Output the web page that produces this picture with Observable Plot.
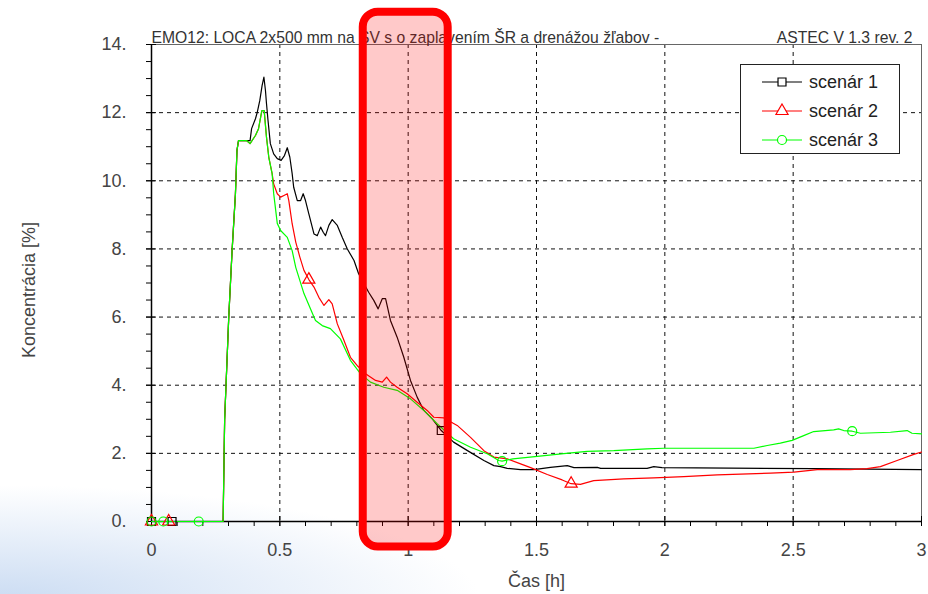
<!DOCTYPE html>
<html><head><meta charset="utf-8">
<script src="https://cdn.jsdelivr.net/npm/d3@7"></script>
<script src="https://cdn.jsdelivr.net/npm/@observablehq/plot@0.6"></script>
<style>
html,body{margin:0;padding:0;background:#fff;}
#wrap{position:relative;width:928px;height:594px;overflow:hidden;
  background: radial-gradient(ellipse 480px 115px at 0px 600px, rgba(200,218,242,0.95), rgba(255,255,255,0));}
#legend{position:absolute;left:740px;top:64px;width:158px;height:88px;border:1px solid #222;background:#fff;
  font-family:"Liberation Sans",Arial,sans-serif;font-size:18px;color:#222;box-sizing:content-box;}
#legend .row{position:absolute;left:20px;height:28px;display:flex;align-items:center;}
#legend .row span{margin-left:6px;}
</style></head>
<body><div id="wrap"></div>
<script>
const titleLeft = "EMO12: LOCA 2x500 mm na SV s o zaplavením ŠR a drenážou žľabov -";
const titleRight = "ASTEC V 1.3 rev. 2";
const xLabel = "Čas [h]";
const yLabel = "Koncentrácia [%]";
const seriesNames = ["scenár 1", "scenár 2", "scenár 3"];
const seriesColors = ["#000000", "#ff0000", "#00ff00"];
const seriesSymbols = ["square", "triangle", "circle"];
const xMajor = [0, 0.5, 1, 1.5, 2, 2.5, 3];
const xMinor = d3.range(0, 31).map(i => i / 10);
const yMajor = [0, 2, 4, 6, 8, 10, 12, 14];
const yMinor = d3.range(0, 29).map(i => i / 2);

// [time h, concentration %]
const scen1 = [[0,0],[0.279,0],[0.285,3.0],[0.301,6.0],[0.314,7.95],[0.327,9.61],[0.333,10.89],[0.339,11.18],[0.370,11.18],[0.384,11.18],[0.390,11.53],[0.405,11.82],[0.412,12.01],[0.422,12.36],[0.431,12.80],[0.438,13.04],[0.444,12.65],[0.448,12.27],[0.454,11.77],[0.463,11.09],[0.476,10.79],[0.490,10.65],[0.505,10.60],[0.518,10.74],[0.529,10.97],[0.539,10.69],[0.548,10.21],[0.554,9.81],[0.568,9.42],[0.581,9.42],[0.591,9.62],[0.600,9.42],[0.613,9.03],[0.633,8.44],[0.646,8.39],[0.659,8.64],[0.669,8.49],[0.678,8.39],[0.691,8.69],[0.704,8.86],[0.724,8.69],[0.743,8.34],[0.763,8.00],[0.789,7.66],[0.807,7.27],[0.846,6.73],[0.866,6.49],[0.883,6.24],[0.899,6.54],[0.912,6.54],[0.931,5.90],[0.957,5.41],[0.983,4.82],[1.009,4.14],[1.035,3.65],[1.061,3.26],[1.094,3.01],[1.129,2.67],[1.177,2.33],[1.231,2.08],[1.295,1.79],[1.334,1.64],[1.360,1.61],[1.386,1.56],[1.438,1.52],[1.490,1.52],[1.554,1.59],[1.620,1.64],[1.646,1.58],[1.737,1.59],[1.750,1.56],[1.931,1.56],[1.957,1.61],[1.989,1.58],[2.580,1.55],[3.000,1.52]];
const scen2 = [[0,0],[0.279,0],[0.285,3.0],[0.301,6.0],[0.314,7.95],[0.327,9.61],[0.333,10.89],[0.339,11.18],[0.370,11.18],[0.384,11.09],[0.405,11.33],[0.417,11.53],[0.430,12.06],[0.439,12.06],[0.448,11.28],[0.457,10.69],[0.470,10.21],[0.476,9.91],[0.490,9.62],[0.503,9.52],[0.516,9.57],[0.529,9.62],[0.535,9.42],[0.548,8.74],[0.562,8.20],[0.578,7.76],[0.594,7.37],[0.613,7.10],[0.633,6.88],[0.652,6.58],[0.672,6.34],[0.691,6.51],[0.704,6.39],[0.724,5.80],[0.750,5.31],[0.775,4.82],[0.801,4.58],[0.834,4.34],[0.873,4.14],[0.899,4.09],[0.916,4.24],[0.931,4.09],[0.957,3.94],[0.996,3.75],[1.035,3.50],[1.074,3.26],[1.100,3.06],[1.139,3.04],[1.191,2.82],[1.243,2.47],[1.295,2.08],[1.334,1.89],[1.386,1.84],[1.438,1.69],[1.477,1.58],[1.542,1.38],[1.600,1.22],[1.635,1.11],[1.671,1.09],[1.723,1.20],[1.840,1.25],[1.957,1.28],[2.074,1.32],[2.204,1.37],[2.412,1.42],[2.503,1.45],[2.594,1.52],[2.723,1.52],[2.788,1.55],[2.840,1.61],[2.905,1.79],[2.970,1.97],[3.000,2.04]];
const scen3 = [[0,0],[0.279,0],[0.285,3.0],[0.301,6.0],[0.314,7.95],[0.327,9.61],[0.333,10.89],[0.339,11.18],[0.370,11.18],[0.384,11.09],[0.405,11.33],[0.417,11.53],[0.430,12.06],[0.439,12.06],[0.448,11.28],[0.457,10.69],[0.470,10.21],[0.476,9.63],[0.490,8.75],[0.503,8.54],[0.529,8.34],[0.548,7.95],[0.562,7.46],[0.594,6.69],[0.633,6.00],[0.639,5.90],[0.665,5.75],[0.697,5.66],[0.736,5.36],[0.775,4.73],[0.814,4.34],[0.853,4.09],[0.905,3.94],[0.957,3.85],[1.009,3.60],[1.061,3.26],[1.113,2.87],[1.177,2.43],[1.243,2.18],[1.308,1.99],[1.353,1.79],[1.366,1.77],[1.408,1.84],[1.503,1.91],[1.606,1.99],[1.697,2.06],[1.801,2.08],[1.931,2.13],[1.996,2.15],[2.190,2.15],[2.347,2.15],[2.399,2.23],[2.450,2.30],[2.496,2.38],[2.541,2.52],[2.580,2.64],[2.658,2.69],[2.677,2.72],[2.697,2.67],[2.730,2.65],[2.762,2.59],[2.879,2.62],[2.944,2.67],[2.963,2.59],[3.000,2.57]];

const markers1 = [[0,0],[0.080,0],[1.129,2.67]];
const markers2 = [[0,0],[0.067,0],[0.613,7.10],[1.635,1.11]];
const markers3 = [[0,0],[0.046,0],[0.184,0],[1.366,1.77],[2.730,2.65]];

// highlighted time window (annotation box), in data units
const highlight = [{t1: 0.825, t2: 1.156, c1: -0.75, c2: 14.95}];

const series = [scen1, scen2, scen3];
const markers = [markers1, markers2, markers3];
const font = "'Liberation Sans', Arial, sans-serif";
const gridStyle = {stroke: "#111", strokeOpacity: 1, strokeWidth: 1, strokeDasharray: "4,4"};

const chart = Plot.plot({
  width: 928, height: 594,
  marginLeft: 151, marginRight: 7, marginTop: 44, marginBottom: 73,
  style: {fontFamily: font, fontSize: "18px", color: "#333", background: "transparent", overflow: "visible"},
  x: {domain: [0, 3]},
  y: {domain: [0, 14]},
  marks: [
    Plot.gridX(xMajor.filter(v => v > 0 && v < 3), gridStyle),
    Plot.gridY(yMajor.filter(v => v > 0 && v < 14), gridStyle),
    Plot.frame({stroke: "#666", strokeWidth: 1}),
    Plot.ruleX([0], {stroke: "#000", strokeWidth: 1.5}),
    Plot.ruleY([0], {stroke: "#000", strokeWidth: 1.5}),
    Plot.axisY(yMinor, {tickSize: 5, fill: "none", stroke: "#000"}),
    Plot.axisY(yMajor, {tickSize: 10, dx: 5, fill: "none", stroke: "#000"}),
    Plot.axisY(yMajor, {tickSize: 0, tickPadding: 25, tickFormat: d => d + ".", fill: "#444", label: null}),
    Plot.text([yLabel], {frameAnchor: "left", rotate: -90, dx: -122, dy: 7, textAnchor: "middle", lineAnchor: "middle", fontSize: 18, fill: "#444"}),
    Plot.axisX(xMinor, {tickSize: 5, fill: "none", stroke: "#000"}),
    Plot.axisX(xMajor, {tickSize: 10, dy: -5, fill: "none", stroke: "#000"}),
    Plot.axisX(xMajor, {tickSize: 0, tickPadding: 22, tickFormat: d => String(d), fill: "#444", label: null}),
    Plot.text([xLabel], {frameAnchor: "bottom", dy: 60, textAnchor: "middle", lineAnchor: "middle", fontSize: 18, fill: "#444"}),
    ...series.map((s, i) => Plot.line(s, {x: d => d[0], y: d => d[1], stroke: seriesColors[i], strokeWidth: 1.2})),
    ...markers.map((m, i) => Plot.dot(m, {x: d => d[0], y: d => d[1], symbol: seriesSymbols[i], stroke: seriesColors[i], fill: "none", r: 4.5, strokeWidth: 1.2})),
    Plot.text([titleLeft], {frameAnchor: "top-left", textAnchor: "start", lineAnchor: "bottom", dy: -2, fontSize: 15.7, fill: "#333"}),
    Plot.text([titleRight], {frameAnchor: "top-right", textAnchor: "end", lineAnchor: "bottom", dx: -9, dy: -2, fontSize: 15.7, fill: "#333"}),
    Plot.rect(highlight, {x1: "t1", x2: "t2", y1: "c1", y2: "c2", rx: 15, fill: "#ff0000", fillOpacity: 0.21, stroke: "#ff0000", strokeWidth: 8})
  ]
});
const wrap = document.getElementById("wrap");
wrap.appendChild(chart);

// legend
const legend = document.createElement("div");
legend.id = "legend";
seriesNames.forEach((name, i) => {
  const row = document.createElement("div");
  row.className = "row";
  row.style.top = (3 + i * 29) + "px";
  const sw = d3.create("svg").attr("width", 42).attr("height", 16);
  sw.append("line").attr("x1", 1).attr("x2", 41).attr("y1", 8).attr("y2", 8).attr("stroke", seriesColors[i]).attr("stroke-width", 1.2);
  const sym = {square: d3.symbolSquare, triangle: d3.symbolTriangle, circle: d3.symbolCircle}[seriesSymbols[i]];
  sw.append("path").attr("d", d3.symbol(sym, Math.PI * 4.5 * 4.5)()).attr("transform", "translate(21,8)")
    .attr("fill", "#fff").attr("stroke", seriesColors[i]).attr("stroke-width", 1.2);
  row.appendChild(sw.node());
  const sp = document.createElement("span");
  sp.textContent = name;
  row.appendChild(sp);
  legend.appendChild(row);
});
wrap.appendChild(legend);
</script>
</body></html>
